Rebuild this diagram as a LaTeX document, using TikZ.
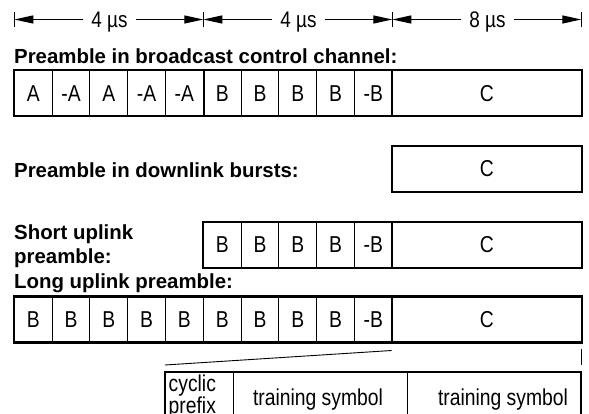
\documentclass[tikz,border=0pt]{standalone}
\usepackage{fontspec}
\setmainfont{Liberation Sans}
\newfontfamily\narrowsans[FakeStretch=0.84]{Liberation Sans}
\usetikzlibrary{arrows.meta}

\begin{document}
\begin{tikzpicture}[x=1pt,y=-1pt,
  thinline/.style={line width=0.9pt},
  thickline/.style={line width=2.2pt},
  cellbox/.style={draw, line width=0.9pt, minimum width=37.8pt,
    minimum height=45pt, inner sep=0pt,
    font=\narrowsans\fontsize{23}{24}\selectfont},
  cbox/.style={cellbox, minimum width=189pt},
  lbl/.style={inner sep=0pt, font=\bfseries\fontsize{20.4}{23.6}\selectfont},
  dur/.style={inner xsep=8pt, inner ysep=0pt, text height=16pt, text depth=0pt,
    font=\narrowsans\fontsize{22.5}{24}\selectfont},
  dimarrow/.style={line width=1.2pt, -{Triangle[length=19pt,width=8pt]}},
  bar/.style={line width=0.9pt},
  body/.style={inner sep=0pt, font=\narrowsans\fontsize{23}{22.5}\selectfont}]

\useasboundingbox (0,0) rectangle (589,414);
\clip (0,0) rectangle (589,414);

% time scale
\coordinate (m0) at (14.3,19.5);
\coordinate (m1) at (203.3,19.5);
\coordinate (m2) at (392.3,19.5);
\coordinate (m3) at (581.3,19.5);
\foreach \m in {m0,m1,m2,m3}
  \draw[bar] ([yshift=7.5pt]\m) -- ([yshift=-7.5pt]\m);
\node[dur] (d1) at (109.5,19.5) {4 µs};
\node[dur] (d2) at (298.5,19.5) {4 µs};
\node[dur] (d3) at (487.5,19.5) {8 µs};
\draw[dimarrow] (d1.west) -- (m0);
\draw[dimarrow] (d1.east) -- (m1);
\draw[dimarrow] (d2.west) -- (m1);
\draw[dimarrow] (d2.east) -- (m2);
\draw[dimarrow] (d3.west) -- (m2);
\draw[dimarrow] (d3.east) -- (m3);

% broadcast control channel
\node[lbl, anchor=base west] (l1) at (14,64) {Preamble in broadcast control channel:};
\foreach \t [count=\i] in {A,-A,A,-A,-A,B,B,B,B,-B}
  \node[cellbox] (ra\i) at ({14.3+(\i-0.5)*37.8},93.3) {\t};
\node[cbox] (raC) at (486.8,93.3) {C};
\draw[thickline] (ra1.north west) rectangle (raC.south east);
\draw[thickline] (ra5.north east) -- (ra5.south east);
\draw[thickline] (raC.north west) -- (raC.south west);

% downlink bursts
\node[lbl, anchor=base west] (l2) at (14,178) {Preamble in downlink bursts:};
\node[cbox] (rbC) at (486.8,169) {C};
\draw[thickline] (rbC.north west) rectangle (rbC.south east);

% short uplink
\node[lbl, anchor=north west, align=left] (l3) at (14,224.6) {Short uplink\\preamble:};
\foreach \t [count=\i] in {B,B,B,B,-B}
  \node[cellbox] (rc\i) at ({14.3+(\i+4.5)*37.8},245) {\t};
\node[cbox] (rcC) at (486.8,245) {C};
\draw[thickline] (rc1.north west) rectangle (rcC.south east);
\draw[thickline] (rcC.north west) -- (rcC.south west);

% long uplink
\node[lbl, anchor=base west] (l4) at (14,288) {Long uplink preamble:};
\foreach \t [count=\i] in {B,B,B,B,B,B,B,B,B,-B}
  \node[cellbox] (rd\i) at ({14.3+(\i-0.5)*37.8},319.5) {\t};
\node[cbox] (rdC) at (486.8,319.5) {C};
\draw[thickline] (rd1.north west) rectangle (rdC.south east);
\draw[thickline] (rdC.north west) -- (rdC.south west);

% expansion of the short training part
\coordinate (za) at (391.7,350.5);
\coordinate (zb) at (165,365);
\coordinate (zc) at (581.3,349);
\coordinate (zd) at (581.3,365);
\draw[thinline] (za) -- (zb);
\draw[thinline] (zc) -- (zd);

\coordinate (ea) at (165,372);
\coordinate (eb) at (581.3,372);
\draw[thickline] (165,440) -- (ea) -- (eb) -- (581.3,440);
\draw[thinline] (233.3,372) -- (233.3,440);
\draw[thinline] (407.3,372) -- (407.3,440);
\node[body, anchor=north west, align=left] (cp) at (168.5,374.2) {cyclic\\prefix};
\node[body, anchor=base] (ts1) at (318,405) {training symbol};
\node[body, anchor=base] (ts2) at (503,405) {training symbol};
\end{tikzpicture}
\end{document}
